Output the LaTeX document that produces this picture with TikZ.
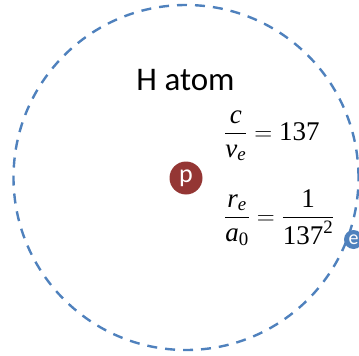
\documentclass[tikz,border=0pt]{standalone}
\usepackage{amsmath}
\usepackage{fontspec}
\newfontfamily\serifeq{Liberation Serif}
\newfontfamily\atomfont{Carlito}
\usetikzlibrary{positioning}
\definecolor{orbitaAzul}{HTML}{4F81BD}
\definecolor{protonRojo}{HTML}{943634}
\newcommand{\vi}[1]{\text{\serifeq\itshape #1}}
\newcommand{\nr}[1]{\text{\serifeq\upshape #1}}
\tikzset{
  orbita/.style={draw=orbitaAzul, line width=2.4pt, dash pattern=on 10pt off 8pt},
  particula/.style={circle, inner sep=0pt, text=white, font=\atomfont},
  titulo/.style={font=\atomfont\fontsize{33}{38}\selectfont, inner sep=0pt},
  ecuacion/.style={font=\fontsize{27}{32}\selectfont, inner sep=0pt},
}
\begin{document}
\begin{tikzpicture}[x=1pt, y=-1pt]
  \useasboundingbox (0,0) rectangle (359,356);
  % orbit and particles
  \draw[orbita] (186,177.5) circle[radius=172.5pt];
  \node[particula, fill=protonRojo, minimum size=33pt, font=\atomfont\fontsize{26}{26}\selectfont] (p) at (186,178) {p};
  \node[particula, fill=orbitaAzul, minimum size=19pt, font=\atomfont\fontsize{20}{20}\selectfont] (e) at (353.5,239.5) {e};
  % labels
  \node[titulo, anchor=base] (h) at (185.5,90) {H atom};
  \node[ecuacion, anchor=base west] (eq1) at (224,140) {$\dfrac{\vi{c}}{\vi{v}_{\vi{e}}}=\nr{137}$};
  \node[ecuacion, anchor=base west] (eq2) at (224,224) {$\dfrac{\vi{r}_{\vi{e}}}{\vi{a}_{\nr{0}}}=\dfrac{\nr{1}}{\nr{137}^{\nr{2}}}$};
\end{tikzpicture}
\end{document}
